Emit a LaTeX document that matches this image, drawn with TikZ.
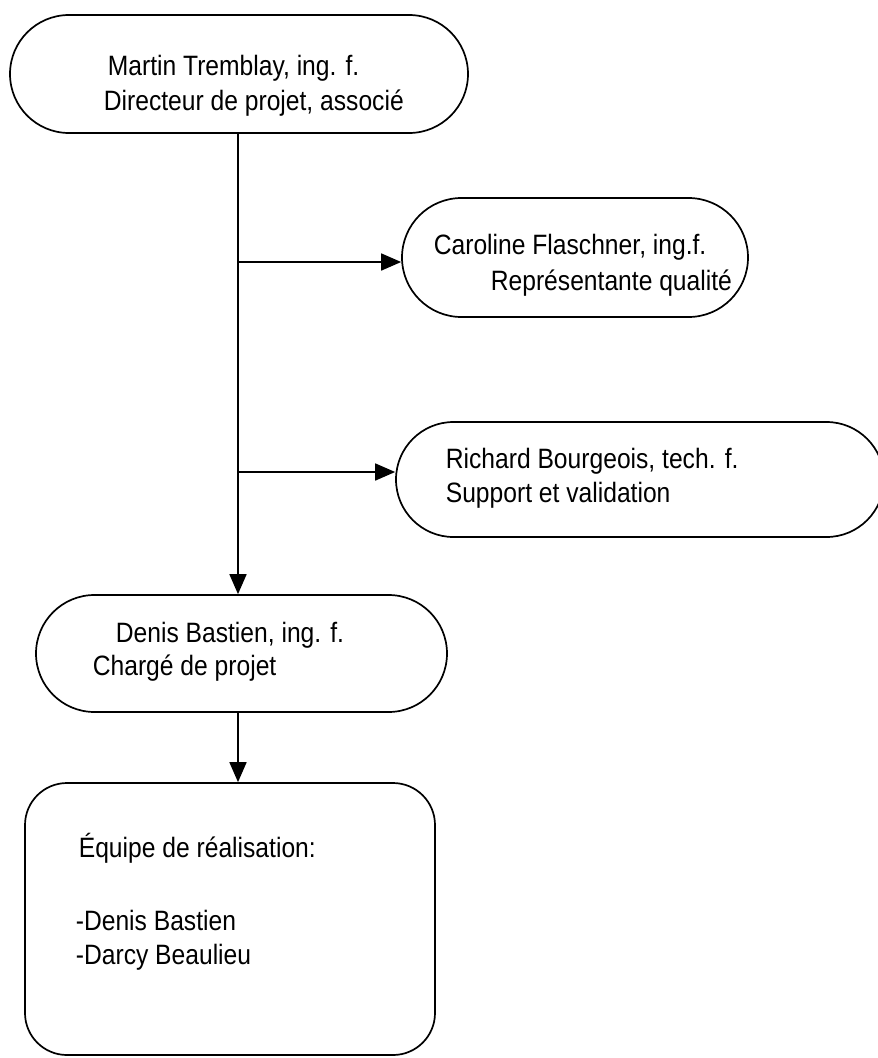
\documentclass[tikz,border=0pt]{standalone}
\usepackage{fontspec}
\setmainfont[FakeStretch=0.88]{Liberation Sans}
\usetikzlibrary{shapes.misc,arrows.meta}
\begin{document}
\begin{tikzpicture}[x=1pt,y=-1pt,
  line width=1.7pt,
  pill/.style={draw, rounded rectangle, inner sep=0pt},
  txt/.style={anchor=base west, inner sep=0pt, font=\fontsize{28}{34}\selectfont},
  arr/.style={-{Triangle[length=20pt,width=17pt]}}]
\useasboundingbox (0,0) rectangle (878,1058);
% nodes
\node[pill, minimum width=458pt, minimum height=118pt] (top) at (239,74) {};
\node[pill, minimum width=346pt, minimum height=119pt] (caro) at (575,257.5) {};
\node[pill, minimum width=488pt, minimum height=115pt] (rich) at (640,479.5) {};
\node[pill, minimum width=411pt, minimum height=117pt] (denis) at (241.5,653.5) {};
\node[draw, rounded corners=42pt, minimum width=410pt, minimum height=272pt, inner sep=0pt] (team) at (230,919) {};
% texts
\node[txt] (t1) at (107,75) {Martin Tremblay, ing. f.};
\node[txt] (t2) at (103,110) {Directeur de projet, associé};
\node[txt] (c1) at (433,254) {Caroline Flaschner, ing.f.};
\node[txt] (c2) at (490,290) {Représentante qualité};
\node[txt] (r1) at (445,468) {Richard Bourgeois, tech. f.};
\node[txt] (r2) at (445,502) {Support et validation};
\node[txt] (d1) at (115,642) {Denis Bastien, ing. f.};
\node[txt] (d2) at (92,675) {Chargé de projet};
\node[txt] (e1) at (78,857) {Équipe de réalisation:};
\node[txt] (e2) at (75,930) {-Denis Bastien};
\node[txt] (e3) at (75,964) {-Darcy Beaulieu};
% connectors
\coordinate (b1) at (238,262);
\coordinate (b2) at (238,472);
\draw[arr] (top.south -| b1) -- (denis.north -| b1);
\draw[arr] (b1) -- (b1 -| caro.west);
\draw[arr] (b2) -- (b2 -| rich.west);
\draw[arr] (denis.south -| b1) -- (team.north -| b1);
\end{tikzpicture}
\end{document}
